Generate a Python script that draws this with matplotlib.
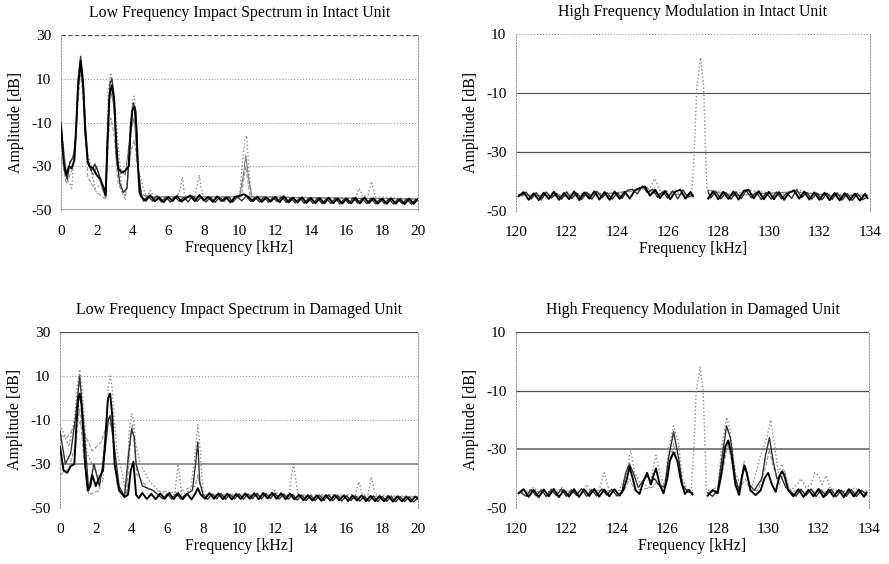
import numpy as np
import matplotlib
matplotlib.use("Agg")
import matplotlib.pyplot as plt

plt.rcParams['font.family'] = ['Liberation Serif', 'DejaVu Serif']
plt.rcParams['axes.unicode_minus'] = False

# ---------------- data ----------------
titles = ["Low Frequency Impact Spectrum in Intact Unit",
          "High Frequency Modulation in Intact Unit",
          "Low Frequency Impact Spectrum in Damaged Unit",
          "High Frequency Modulation in Damaged Unit"]
x_label = "Frequency [kHz]"
y_label = "Amplitude [dB]"
lf_xticks = [0, 2, 4, 6, 8, 10, 12, 14, 16, 18, 20]
hf_xticks = [120, 122, 124, 126, 128, 130, 132, 134]
lf_yticks = [-50, -30, -10, 10, 30]
hf_yticks = [-50, -30, -10, 10]

NAN = float('nan')

# Panel 1: low frequency, intact
lf_int_black = [(0, -12), (0.15, -28), (0.3, -34), (0.45, -30), (0.6, -31), (0.75, -27), (0.85, -12),
    (0.95, 6), (1.1, 18), (1.25, 6), (1.35, -12), (1.5, -28), (1.6, -30), (1.8, -31), (2.0, -34),
    (2.2, -36), (2.4, -40), (2.5, -43), (2.6, -20), (2.72, 3), (2.85, 7), (2.98, 0), (3.1, -20),
    (3.2, -31), (3.4, -33), (3.6, -32), (3.8, -30), (3.9, -12), (4.0, -4), (4.12, -3), (4.22, -12),
    (4.3, -28), (4.4, -42), (4.5, -44), (4.75, -45.8), (5.0, -43.2), (5.25, -46.0), (5.5, -44.3),
    (5.75, -46.4), (6.0, -44.0), (6.25, -45.9), (6.5, -43.6), (6.75, -46.2), (7.0, -44.5), (7.25, -43.4),
    (7.5, -46.0), (7.75, -43.2), (8.0, -45.7), (8.25, -44.0), (8.5, -46.3), (8.75, -43.8), (9.0, -45.9),
    (9.25, -44.2), (9.5, -46.5), (9.75, -44.0), (10.0, -43.5), (10.25, -42.8), (10.5, -44.0),
    (10.75, -46.0), (11.0, -43.9), (11.25, -46.3), (11.5, -44.2), (11.75, -46.1), (12.0, -44.0),
    (12.25, -46.4), (12.5, -43.8), (12.75, -46.5), (13.0, -44.4), (13.25, -46.6), (13.5, -44.2),
    (13.75, -46.8), (14.0, -44.5), (14.25, -46.9), (14.5, -44.6), (14.75, -47.0), (15.0, -44.4),
    (15.25, -46.9), (15.5, -44.7), (15.75, -47.1), (16.0, -44.8), (16.25, -47.0), (16.5, -44.5),
    (16.75, -47.0), (17.0, -44.3), (17.25, -46.8), (17.5, -44.6), (17.75, -47.1), (18.0, -44.8),
    (18.25, -47.2), (18.5, -44.7), (18.75, -47.1), (19.0, -45.0), (19.25, -47.3), (19.5, -44.8),
    (19.75, -47.2), (20.0, -45.0)]
lf_int_dark = [(0, -10), (0.2, -32), (0.35, -36), (0.5, -28), (0.7, -26), (0.85, -14), (0.97, 10),
    (1.1, 20), (1.23, 10), (1.35, -15), (1.5, -28), (1.7, -32), (1.9, -29), (2.1, -33), (2.3, -38),
    (2.5, -44), (2.62, -15), (2.75, 8), (2.85, 10), (2.97, 2), (3.1, -25), (3.3, -38), (3.5, -42),
    (3.7, -40), (3.85, -20), (4.05, -1), (4.2, -5), (4.3, -30), (4.5, -43), (4.625, -46.0),
    (4.875, -43.6), (5.125, -45.9), (5.375, -43.5), (5.625, -46.3), (5.875, -44.1), (6.125, -46.4),
    (6.375, -43.9), (6.625, -46.0), (6.875, -44.3), (7.125, -46.2), (7.375, -43.6), (7.625, -46.0),
    (7.875, -44.0), (8.125, -46.3), (8.375, -44.2), (8.625, -46.5), (8.875, -44.3), (9.125, -46.0),
    (9.375, -43.9), (9.625, -46.4), (9.875, -44.0), (10.125, -45.8), (10.375, -43.6), (10.625, -46.1),
    (10.875, -44.2), (11.125, -46.3), (11.375, -44.0), (11.625, -46.5), (11.875, -44.4),
    (12.125, -46.2), (12.375, -43.9), (12.625, -46.6), (12.875, -44.5), (13.125, -46.8),
    (13.375, -44.4), (13.625, -46.9), (13.875, -44.6), (14.125, -47.0), (14.375, -44.5),
    (14.625, -47.1), (14.875, -44.8), (15.125, -47.0), (15.375, -44.6), (15.625, -47.2),
    (15.875, -44.9), (16.125, -47.0), (16.375, -44.4), (16.625, -46.9), (16.875, -44.7),
    (17.125, -47.1), (17.375, -44.6), (17.625, -47.2), (17.875, -44.9), (18.125, -47.1),
    (18.375, -44.8), (18.625, -47.3), (18.875, -45.0), (19.125, -47.2), (19.375, -44.9),
    (19.625, -47.3), (19.875, -45.1)]
lf_int_dotted = [(0, -10), (0.3, -35), (0.6, -40), (0.8, -20), (0.95, 10), (1.1, 21), (1.25, 10),
    (1.4, -20), (1.6, -28), (1.9, -40), (2.3, -38), (2.5, -42), (2.65, 5), (2.8, 12), (2.95, 4),
    (3.1, -10), (3.4, -40), (3.6, -44), (3.85, -25), (4.0, 0), (4.1, 2), (4.22, -8), (4.3, -30),
    (4.6, -40), (4.8, -44), (5.0, -41), (5.2, -44), (5.5, -44), (6.5, -44), (6.7, -40), (6.8, -35),
    (6.9, -42), (7.0, -44), (7.5, -44), (7.65, -38), (7.75, -34), (7.85, -40), (8.0, -44), (10.0, -44),
    (10.15, -30), (10.3, -18), (10.4, -16), (10.5, -28), (10.65, -44), (12.2, -44), (12.4, -43),
    (12.6, -44.5), (16.5, -44.5), (16.7, -40), (16.9, -44), (17.2, -43), (17.4, -37), (17.6, -44),
    (20, -45)]
lf_int_gray = [(0, -12), (0.3, -33), (0.55, -28), (0.8, -22), (0.95, 6), (1.1, 16), (1.25, 6),
    (1.5, -28), (1.8, -34), (2.0, -30), (2.3, -40), (2.5, -44), (2.68, 0), (2.8, 4), (2.95, -2),
    (3.2, -30), (3.6, -34), (3.9, -14), (4.1, -8), (4.3, -30), (4.5, -43), (5.0, -44), (10.0, -44),
    (10.2, -35), (10.35, -25), (10.5, -35), (10.7, -44), (20, -45)]
lf_int_dashed = [(0, -25), (0.3, -38), (0.7, -30), (0.92, -5), (1.1, 14), (1.28, -5), (1.5, -35),
    (2.0, -42), (2.5, -45), (2.68, -14), (2.8, -8), (2.98, -16), (3.2, -38), (3.6, -45), (3.9, -24),
    (4.1, -18), (4.3, -30), (4.5, -44), (10.1, -44), (10.35, -30), (10.6, -44), (20, -45)]

# Panel 2: high frequency, intact
hf_int_black = [(120.1, -45), (120.3, -43.6), (120.5, -46.2), (120.7, -44.0), (120.9, -46.3),
    (121.1, -43.8), (121.3, -45.9), (121.5, -43.5), (121.7, -46.2), (121.9, -43.9), (122.1, -46.0),
    (122.3, -43.4), (122.5, -46.3), (122.7, -43.7), (122.9, -45.8), (123.1, -43.3), (123.3, -46.1),
    (123.5, -43.6), (123.7, -46.2), (123.9, -43.4), (124.1, -45.9), (124.3, -43.5), (124.5, -45.8),
    (124.7, -43.0), (124.9, -42.2), (125.1, -41.8), (125.3, -44.8), (125.5, -42.8), (125.7, -45.6),
    (125.9, -43.2), (126.1, -46.0), (126.3, -43.4), (126.5, -42.8), (126.7, -45.8), (126.9, -43.6),
    (127.0, -45.0), (127.05, NAN), (127.6, -45.8), (127.8, -43.3), (128.0, -46.0), (128.2, -43.5),
    (128.4, -45.9), (128.6, -43.4), (128.8, -46.1), (129.0, -43.2), (129.2, -42.8), (129.4, -45.7),
    (129.6, -43.3), (129.8, -46.0), (130.0, -43.5), (130.2, -46.0), (130.4, -43.6), (130.6, -46.2),
    (130.8, -43.8), (131.0, -43.0), (131.2, -45.8), (131.4, -43.4), (131.6, -46.1), (131.8, -43.7),
    (132.0, -46.2), (132.2, -43.8), (132.4, -46.3), (132.6, -43.9), (132.8, -46.4), (133.0, -44.0),
    (133.2, -46.3), (133.4, -44.1), (133.6, -46.5), (133.8, -44.2), (133.9, -45.6)]
hf_int_dark = [(120.2, -44.8), (120.4, -43.6), (120.6, -45.9), (120.8, -43.8), (121.0, -46.2),
    (121.2, -43.6), (121.4, -45.6), (121.6, -44.0), (121.8, -46.0), (122.0, -43.5), (122.2, -45.8),
    (122.4, -43.9), (122.6, -46.1), (122.8, -43.6), (123.0, -46.0), (123.2, -43.3), (123.4, -45.5),
    (123.6, -43.8), (123.8, -46.0), (124.0, -43.9), (124.2, -45.7), (124.4, -43.0), (124.6, -42.6),
    (124.8, -44.2), (125.0, -41.5), (125.2, -43.8), (125.4, -42.6), (125.6, -45.4), (125.8, -43.5),
    (126.0, -45.6), (126.2, -43.2), (126.4, -45.9), (126.6, -42.9), (126.8, -45.3), (127.0, -44.6),
    (127.05, NAN), (127.6, -43.5), (127.7, -45.6), (127.9, -43.4), (128.1, -45.9), (128.3, -43.7),
    (128.5, -46.0), (128.7, -43.5), (128.9, -45.8), (129.1, -43.0), (129.3, -45.5), (129.5, -43.6),
    (129.7, -46.1), (129.9, -43.8), (130.1, -46.0), (130.3, -43.5), (130.5, -45.9), (130.7, -43.9),
    (130.9, -45.7), (131.1, -42.8), (131.3, -45.4), (131.5, -43.7), (131.7, -46.0), (131.9, -43.9),
    (132.1, -46.2), (132.3, -44.0), (132.5, -46.1), (132.7, -43.8), (132.9, -46.3), (133.1, -44.1),
    (133.3, -46.4), (133.5, -44.0), (133.7, -46.2), (133.9, -45.2)]
hf_int_dotted = [(120.1, -45), (121.5, -44.5), (123.0, -44), (124.3, -44), (125.0, -42), (125.3, -42),
    (125.5, -39), (125.7, -43), (126.5, -44), (126.95, -44), (127.05, -30), (127.15, -8), (127.3, 2),
    (127.42, -8), (127.5, -30), (127.55, -43), (127.8, -43), (128.5, -44.5), (129.3, -43), (130.5, -44.5),
    (131.1, -42.5), (131.5, -44), (133.0, -44.5), (133.9, -45)]
hf_int_gray = [(120.1, -44.5), (122.0, -45), (123.5, -44.2), (124.8, -43), (125.1, -41.5), (125.4, -44),
    (126.6, -44.5), (127.0, -44.5), (127.05, NAN), (127.6, -43), (128.6, -44.8), (129.9, -44),
    (131.0, -43.5), (132.5, -44.8), (133.9, -44.6)]

# Panel 3: low frequency, damaged
lf_dam_black = [(0, -22), (0.2, -33), (0.4, -34), (0.6, -31), (0.8, -30), (0.92, -12), (1.03, 0),
    (1.1, 2), (1.2, -3), (1.3, -15), (1.4, -30), (1.55, -42), (1.7, -40), (1.8, -35), (2.0, -40),
    (2.2, -36), (2.4, -33), (2.52, -20), (2.68, 0), (2.8, 2), (2.92, -8), (3.05, -30), (3.3, -42),
    (3.6, -45), (3.8, -44), (3.95, -33), (4.1, -29), (4.25, -44), (4.4, -45.5), (4.6, -43.2),
    (4.85, -45.9), (5.1, -43.6), (5.35, -46.0), (5.6, -43.4), (5.85, -45.8), (6.1, -43.2), (6.35, -45.9),
    (6.6, -43.3), (6.85, -46.0), (7.1, -43.5), (7.35, -46.1), (7.55, -43.5), (7.7, -41), (7.85, -43.8),
    (8.1, -45.8), (8.35, -43.2), (8.6, -45.8), (8.85, -43.4), (9.1, -46.0), (9.35, -43.5),
    (9.6, -46.1), (9.85, -43.6), (10.1, -45.9), (10.35, -43.4), (10.6, -45.8), (10.85, -43.3),
    (11.1, -46.0), (11.35, -43.2), (11.6, -45.7), (11.85, -43.1), (12.1, -45.8), (12.35, -43.3),
    (12.6, -46.0), (12.85, -43.5), (13.1, -46.1), (13.35, -44.0), (13.6, -46.5), (13.85, -44.2),
    (14.1, -46.6), (14.35, -44.3), (14.6, -46.7), (14.85, -44.2), (15.1, -46.6), (15.35, -44.1),
    (15.6, -46.5), (15.85, -44.3), (16.1, -46.8), (16.35, -44.4), (16.6, -46.6), (16.85, -44.3),
    (17.1, -46.9), (17.35, -44.5), (17.6, -46.9), (17.85, -44.6), (18.1, -47.0), (18.35, -44.6),
    (18.6, -47.1), (18.85, -44.7), (19.1, -47.0), (19.35, -44.8), (19.6, -47.1), (19.85, -44.8),
    (20.0, -45.8)]
lf_dam_dark = [(0, -15), (0.3, -30), (0.6, -25), (0.88, -8), (1.1, 10), (1.25, -5), (1.4, -20),
    (1.6, -42), (1.9, -30), (2.2, -40), (2.5, -25), (2.7, -10), (2.8, -8), (3.0, -20), (3.3, -40),
    (3.6, -45), (3.85, -24), (4.0, -14), (4.15, -18), (4.25, -30), (4.6, -40), (5.2, -42), (5.5, -44.2),
    (5.75, -45.8), (6.0, -43.6), (6.25, -46.0), (6.5, -43.5), (6.75, -45.9), (7.0, -44.0), (7.4, -42),
    (7.6, -28), (7.7, -20), (7.8, -38), (8.0, -44), (8.25, -46.0), (8.5, -43.6), (8.75, -45.8),
    (9.0, -43.4), (9.25, -46.1), (9.5, -43.7), (9.75, -45.9), (10.0, -43.5), (10.25, -46.0),
    (10.5, -43.6), (10.75, -45.8), (11.0, -43.3), (11.25, -45.9), (11.5, -43.4), (11.75, -45.7),
    (12.0, -43.2), (12.25, -45.9), (12.5, -43.6), (12.75, -46.0), (13.0, -43.8), (13.25, -46.4),
    (13.5, -44.1), (13.75, -46.6), (14.0, -44.3), (14.25, -46.7), (14.5, -44.2), (14.75, -46.6),
    (15.0, -44.0), (15.25, -46.7), (15.5, -44.3), (15.75, -46.8), (16.0, -44.4), (16.25, -46.6),
    (16.5, -44.5), (16.75, -46.9), (17.0, -44.6), (17.25, -47.0), (17.5, -44.5), (17.75, -47.1),
    (18.0, -44.7), (18.25, -47.0), (18.5, -44.8), (18.75, -47.2), (19.0, -44.8), (19.25, -47.1),
    (19.5, -44.9), (19.75, -47.2), (20.0, -45.5)]
lf_dam_dotted = [(0, -12), (0.2, -16), (0.5, -22), (0.8, -10), (0.97, 5), (1.1, 13), (1.23, 5),
    (1.35, -10), (1.5, -25), (1.8, -30), (2.1, -35), (2.4, -38), (2.58, -15), (2.7, 5), (2.8, 10),
    (2.92, 4), (3.02, -10), (3.2, -25), (3.5, -35), (3.7, -44), (3.87, -15), (4.0, -7), (4.12, -10),
    (4.2, -20), (4.5, -30), (5.0, -38), (5.5, -42), (6.0, -44), (6.4, -44), (6.6, -30), (6.8, -44),
    (7.3, -42), (7.55, -25), (7.7, -12), (7.85, -25), (8.0, -44), (11.8, -44), (12.0, -42), (12.2, -44),
    (12.8, -44), (12.95, -34), (13.05, -30), (13.15, -36), (13.3, -44), (16.5, -44), (16.7, -38),
    (16.9, -44), (17.2, -44), (17.4, -36), (17.6, -44), (20, -45)]
lf_dam_dashed = [(0, -35), (0.5, -32), (0.9, -20), (1.03, -8), (1.1, -5), (1.3, -25), (1.6, -44),
    (2.2, -42), (2.5, -20), (2.7, -9), (2.9, -15), (3.2, -40), (3.7, -45), (3.95, -18), (4.05, -12),
    (4.3, -35), (5.0, -42), (6.5, -43), (7.55, -40), (7.7, -35), (7.85, -40), (8.0, -44), (20, -45)]
lf_dam_diag = [(0.05, -17), (0.4, -18), (1.0, -10), (1.15, -12), (1.8, -24), (2.3, -20), (2.75, -9)]

# Panel 4: high frequency, damaged
hf_dam_black = [(120.1, -45), (120.3, -43.6), (120.5, -46.2), (120.7, -43.8), (120.9, -46.3),
    (121.1, -43.7), (121.3, -46.0), (121.5, -43.5), (121.7, -46.3), (121.9, -43.9), (122.1, -46.1),
    (122.3, -43.6), (122.5, -46.2), (122.7, -43.7), (122.9, -45.9), (123.1, -43.5), (123.3, -46.1),
    (123.5, -43.7), (123.7, -46.0), (123.9, -43.6), (124.1, -45.8), (124.25, -44), (124.4, -40),
    (124.5, -36), (124.6, -39), (124.75, -44), (124.9, -45.2), (125.05, -41), (125.2, -38),
    (125.35, -42), (125.45, -39), (125.55, -36.5), (125.7, -42), (125.85, -45.0), (126.0, -40),
    (126.1, -34), (126.25, -31), (126.4, -34), (126.55, -41), (126.7, -45.2), (126.85, -43.8),
    (127.0, -45.4), (127.05, NAN), (127.6, -45.8), (127.8, -43.9), (128.0, -45.0), (128.15, -38),
    (128.3, -29), (128.42, -27), (128.55, -32), (128.7, -42), (128.85, -45.5), (128.95, -40),
    (129.05, -35.5), (129.15, -38), (129.3, -44), (129.5, -45.6), (129.7, -44), (129.85, -40),
    (130.0, -38), (130.15, -42), (130.3, -44.5), (130.45, -39), (130.55, -37.5), (130.65, -39),
    (130.8, -44), (131.0, -46.0), (131.2, -43.6), (131.4, -46.2), (131.6, -43.8), (131.8, -46.0),
    (132.0, -43.5), (132.2, -46.3), (132.4, -43.7), (132.6, -46.1), (132.8, -43.8), (133.0, -46.3),
    (133.2, -43.6), (133.4, -46.1), (133.6, -43.7), (133.8, -46.2), (133.9, -44.8)]
hf_dam_dark = [(120.2, -44.8), (120.4, -46.0), (120.6, -43.7), (120.8, -45.9), (121.0, -43.8),
    (121.2, -46.1), (121.4, -43.6), (121.6, -45.8), (121.8, -43.5), (122.0, -46.0), (122.2, -43.8),
    (122.4, -45.7), (122.6, -43.4), (122.8, -46.0), (123.0, -43.7), (123.2, -45.9), (123.4, -43.5),
    (123.6, -45.6), (123.8, -43.6), (124.0, -45.9), (124.2, -44.5), (124.35, -38), (124.5, -35),
    (124.65, -38), (124.85, -43), (125.1, -40), (125.2, -39), (125.35, -41), (125.5, -40),
    (125.65, -42), (125.9, -43), (126.05, -33), (126.25, -24), (126.45, -33), (126.6, -42),
    (126.8, -44.5), (127.0, -44.8), (127.05, NAN), (127.6, -44.8), (127.8, -46.0), (128.0, -44),
    (128.15, -34), (128.35, -22), (128.5, -26), (128.7, -40), (128.85, -44), (129.0, -38),
    (129.1, -36), (129.25, -42), (129.45, -44), (129.6, -42), (129.75, -40), (129.9, -32),
    (130.05, -26), (130.2, -34), (130.35, -40), (130.5, -39), (130.7, -43), (130.9, -44.5),
    (131.1, -46.0), (131.3, -43.6), (131.5, -45.8), (131.7, -43.5), (131.9, -46.1), (132.1, -43.8),
    (132.3, -45.9), (132.5, -43.6), (132.7, -46.2), (132.9, -43.9), (133.1, -46.0), (133.3, -43.7),
    (133.5, -46.1), (133.7, -43.9), (133.9, -45.5)]
hf_dam_dotted = [(120.1, -45), (120.5, -44), (120.7, -43), (120.9, -44.5), (121.6, -44.8), (121.8, -43),
    (122.0, -45), (122.6, -44.5), (122.8, -42), (123.0, -44.5), (123.3, -44), (123.5, -38),
    (123.7, -44.5), (124.1, -44), (124.4, -38), (124.55, -30), (124.7, -38), (124.9, -41), (125.1, -42),
    (125.3, -43), (125.45, -36), (125.55, -32), (125.7, -38), (125.9, -43), (126.05, -30),
    (126.25, -22), (126.45, -28), (126.6, -40), (126.8, -44), (126.95, -44), (127.05, -30),
    (127.15, -10), (127.3, -2), (127.42, -10), (127.5, -30), (127.55, -44), (128.0, -44),
    (128.15, -30), (128.35, -19), (128.5, -24), (128.7, -38), (128.9, -42), (129.05, -34),
    (129.2, -40), (129.35, -43), (129.55, -37), (129.7, -32), (129.8, -30), (129.95, -26),
    (130.1, -20), (130.25, -28), (130.4, -38), (130.55, -35), (130.7, -42), (130.9, -44),
    (131.15, -42), (131.3, -40), (131.5, -43), (131.7, -42), (131.85, -38), (132.0, -39),
    (132.15, -42), (132.3, -39), (132.45, -43), (132.7, -44), (133.2, -44.5), (133.45, -43),
    (133.6, -44.5), (133.9, -44)]
hf_dam_dashed = [(120.1, -44.5), (124.3, -44), (124.5, -40), (124.7, -44), (125.4, -43), (125.6, -41),
    (125.8, -44), (126.05, -36), (126.25, -28), (126.45, -36), (126.7, -44), (127.0, -44),
    (127.05, NAN), (127.6, -45), (128.1, -42), (128.4, -28), (128.6, -36), (128.85, -44), (129.1, -40),
    (129.3, -44), (129.6, -44), (129.9, -36), (130.05, -30), (130.2, -36), (130.45, -42), (130.65, -37),
    (130.85, -44), (131.5, -44.5), (133.9, -44.5)]

# ---------------- styling ----------------
S_BLACK = dict(color='black', lw=1.4, ls='-', zorder=5)
S_DARK = dict(color='0.2', lw=1.0, ls='-', zorder=4)
S_DOT = dict(color='0.55', lw=1.0, ls=':', zorder=3)
S_GRAY = dict(color='0.5', lw=0.8, ls='-', zorder=3)
S_DASH = dict(color='0.6', lw=0.8, ls='--', zorder=3)

panels = [
    dict(traces=[(lf_int_dotted, S_DOT), (lf_int_dashed, S_DASH), (lf_int_gray, S_GRAY),
                 (lf_int_dark, S_DARK), (lf_int_black, S_BLACK)],
         xlim=(0, 20), ylim=(-50, 30), xticks=lf_xticks, yticks=lf_yticks,
         solid={30: ('0.35', '--', 0.9), -50: ('0.6', '-', 1.3)},
         rect=[61/889, 1-210/564, 357/889, 175/564]),
    dict(traces=[(hf_int_dotted, S_DOT), (hf_int_gray, S_GRAY), (hf_int_dark, S_DARK),
                 (hf_int_black, S_BLACK)],
         xlim=(120, 134), ylim=(-50, 10), xticks=hf_xticks, yticks=hf_yticks,
         solid={-10: ('0.35', '-', 0.9), -30: ('0.3', '-', 0.9)},
         rect=[516/889, 1-211/564, 354/889, 177/564]),
    dict(traces=[(lf_dam_dotted, S_DOT), (lf_dam_dashed, S_DASH), (lf_dam_diag, S_DASH),
                 (lf_dam_dark, S_DARK), (lf_dam_black, S_BLACK)],
         xlim=(0, 20), ylim=(-50, 30), xticks=lf_xticks, yticks=lf_yticks,
         solid={30: ('0.3', '-', 0.9), -30: ('0.55', '-', 1.3)},
         rect=[60/889, 1-508/564, 358/889, 176/564]),
    dict(traces=[(hf_dam_dotted, S_DOT), (hf_dam_dashed, S_DASH), (hf_dam_dark, S_DARK),
                 (hf_dam_black, S_BLACK)],
         xlim=(120, 134), ylim=(-50, 10), xticks=hf_xticks, yticks=hf_yticks,
         solid={10: ('0.3', '-', 0.9), -10: ('0.3', '-', 0.9), -30: ('0.5', '-', 1.4)},
         rect=[516/889, 1-508/564, 353/889, 176/564]),
]

fig = plt.figure(figsize=(8.89, 5.64), dpi=100)
for p, title in zip(panels, titles):
    ax = fig.add_axes(p['rect'])
    for pts, st in p['traces']:
        arr = np.array(pts, dtype=float)
        ax.plot(arr[:, 0], arr[:, 1], **st)
    ax.set_xlim(*p['xlim'])
    ax.set_ylim(*p['ylim'])
    ax.set_xticks(p['xticks'])
    ax.set_yticks(p['yticks'])
    for yv in p['yticks']:
        if yv in p['solid']:
            c, ls, lw = p['solid'][yv]
            ax.axhline(yv, color=c, ls=ls, lw=lw, zorder=1)
        else:
            ax.axhline(yv, color='0.6', ls=':', lw=0.8, zorder=1)
    for s in ['top', 'bottom']:
        ax.spines[s].set_visible(False)
    for s in ['left', 'right']:
        ax.spines[s].set_linestyle(':')
        ax.spines[s].set_color('0.6')
        ax.spines[s].set_linewidth(0.8)
    ax.tick_params(length=0, labelsize=11)
    ax.tick_params(axis='x', pad=11)
    ax.tick_params(axis='y', pad=7)
    ax.set_title(title, fontsize=11.4, pad=13)
    ax.set_xlabel(x_label, fontsize=11.4, labelpad=1)
    ax.set_ylabel(y_label, fontsize=11.4, labelpad=5)
    ax.set_facecolor('white')

fig.savefig('out.png', dpi=100, facecolor='white')
